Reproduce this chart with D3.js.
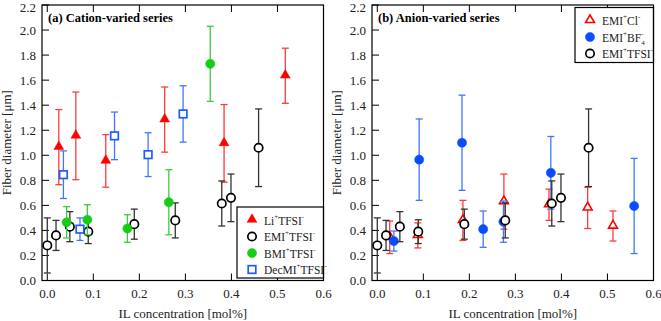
<!DOCTYPE html>
<html>
<head>
<meta charset="utf-8">
<script src="https://cdn.jsdelivr.net/npm/d3@7"></script>
<style>
  body { margin: 0; background: #fff; }
  svg text { font-family: "Liberation Serif", "Times New Roman", serif; }
</style>
</head>
<body>
<div id="chart"></div>
<script>
// concentration [mol%], mean diameter [um], error half-width [um]
var emiTfsiX = [0.0, 0.019, 0.049, 0.089, 0.189, 0.278, 0.379, 0.399, 0.459];
var emiTfsiY = [0.28, 0.36, 0.43, 0.39, 0.45, 0.48, 0.615, 0.66, 1.06];
var emiTfsiE = [0.22, 0.12, 0.12, 0.095, 0.12, 0.14, 0.18, 0.19, 0.31];

var liTfsiX = [0.025, 0.062, 0.127, 0.255, 0.384, 0.517];
var liTfsiY = [1.065, 1.155, 0.955, 1.285, 1.095, 1.635];
var liTfsiE = [0.30, 0.35, 0.21, 0.26, 0.31, 0.22];

var bmiTfsiX = [0.042, 0.087, 0.174, 0.264, 0.354];
var bmiTfsiY = [0.465, 0.485, 0.415, 0.625, 1.73];
var bmiTfsiE = [0.125, 0.12, 0.11, 0.26, 0.30];

var decmiTfsiX = [0.035, 0.071, 0.146, 0.219, 0.295];
var decmiTfsiY = [0.845, 0.41, 1.155, 1.005, 1.33];
var decmiTfsiE = [0.19, 0.09, 0.19, 0.175, 0.225];

var emiClX = [0.027, 0.088, 0.186, 0.275, 0.373, 0.457, 0.512];
var emiClY = [0.345, 0.36, 0.48, 0.63, 0.605, 0.58, 0.435];
var emiClE = [0.13, 0.10, 0.16, 0.22, 0.125, 0.165, 0.12];

var emiBf4X = [0.036, 0.091, 0.184, 0.230, 0.274, 0.377, 0.558];
var emiBf4Y = [0.315, 0.965, 1.10, 0.41, 0.47, 0.86, 0.595];
var emiBf4E = [0.08, 0.325, 0.38, 0.145, 0.165, 0.29, 0.38];

var xTicks = [0.0, 0.1, 0.2, 0.3, 0.4, 0.5, 0.6];
var yTicks = [0.0, 0.2, 0.4, 0.6, 0.8, 1.0, 1.2, 1.4, 1.6, 1.8, 2.0, 2.2];

function series(name, xs, ys, es, shape, color, barColor) {
  return {
    name: name, shape: shape, color: color, barColor: barColor,
    points: xs.map(function(x, i) { return {x: x, y: ys[i], e: es[i]}; })
  };
}

var panelA = {
  title: "(a) Cation-varied series",
  series: [
    series(["Li", "+", "TFSI", "-"], liTfsiX, liTfsiY, liTfsiE, "triFill", "#ff0000", "#ff3a3a"),
    series(["EMI", "+", "TFSI", "-"], emiTfsiX, emiTfsiY, emiTfsiE, "circleOpen", "#000", "#333"),
    series(["BMI", "+", "TFSI", "-"], bmiTfsiX, bmiTfsiY, bmiTfsiE, "circleFill", "#16cc16", "#3ccc3c"),
    series(["DecMI", "+", "TFSI", "-"], decmiTfsiX, decmiTfsiY, decmiTfsiE, "squareOpen", "#1f5cff", "#3f77ff")
  ],
  legend: {x: 237, y: 207, w: 86.5, h: 71}
};

var panelB = {
  title: "(b) Anion-varied series",
  series: [
    series(["EMI", "+", "Cl", "-"], emiClX, emiClY, emiClE, "triOpen", "#ff0000", "#ff3a3a"),
    series(["EMI", "+", "BF", "-", "4"], emiBf4X, emiBf4Y, emiBf4E, "circleFill", "#0a4dff", "#3f77ff"),
    series(["EMI", "+", "TFSI", "-"], emiTfsiX, emiTfsiY, emiTfsiE, "circleOpen", "#000", "#333")
  ],
  legend: {x: 245, y: 7.5, w: 78.5, h: 55}
};

var width = 661, height = 321;
var svg = d3.select("#chart").append("svg")
  .attr("width", width)
  .attr("height", height);

var x = d3.scaleLinear().domain([-0.0115, 0.6]).range([42, 323.5]);
var y = d3.scaleLinear().domain([0, 2.2]).range([280.5, 5]);

function drawMarker(g, shape, color, cx, cy) {
  if (shape === "circleOpen" || shape === "circleFill") {
    g.append("circle")
      .attr("cx", cx).attr("cy", cy).attr("r", shape === "circleFill" ? 4.6 : 4.2)
      .attr("fill", shape === "circleFill" ? color : "#fff")
      .attr("stroke", color)
      .attr("stroke-width", shape === "circleFill" ? 0.5 : 1.7);
  } else if (shape === "squareOpen") {
    g.append("rect")
      .attr("x", cx - 3.8).attr("y", cy - 3.8)
      .attr("width", 7.6).attr("height", 7.6)
      .attr("fill", "#fff").attr("stroke", color).attr("stroke-width", 1.7);
  } else {
    var open = shape === "triOpen";
    g.append("path")
      .attr("d", d3.symbol().type(d3.symbolTriangle).size(open ? 34 : 42)())
      .attr("transform", "translate(" + cx + "," + (cy - 0.5) + ")")
      .attr("fill", open ? "#fff" : color)
      .attr("stroke", color)
      .attr("stroke-width", open ? 1.6 : 0.5);
  }
}

// ion label: base + charge superscripts, optional subscript (BF4-)
function labelText(sel, parts) {
  sel.append("tspan").text(parts[0]);
  sel.append("tspan").attr("font-size", 7).attr("dy", -6).text(parts[1]);
  sel.append("tspan").attr("dy", 6).text(parts[2]);
  if (parts.length === 5) {
    sel.append("tspan").attr("font-size", 7).attr("dy", 3).text(parts[4]);
    sel.append("tspan").attr("font-size", 7).attr("dy", -9).attr("dx", -3.5).text(parts[3]);
  } else {
    sel.append("tspan").attr("font-size", 7).attr("dy", -6).text(parts[3]);
  }
}

function drawPanel(panel, offsetX) {
  var g = svg.append("g").attr("transform", "translate(" + offsetX + ",0)");
  var x0 = x.range()[0], x1 = x.range()[1], y0 = y.range()[0], y1 = y.range()[1];

  // inward ticks on left, bottom and top
  g.selectAll(".ytick").data(yTicks).enter().append("line")
    .attr("x1", x0).attr("x2", x0 + 7)
    .attr("y1", function(d) { return y(d); }).attr("y2", function(d) { return y(d); })
    .attr("stroke", "#000").attr("stroke-width", 1);
  g.selectAll(".xtick").data(xTicks).enter().append("line")
    .attr("x1", function(d) { return x(d); }).attr("x2", function(d) { return x(d); })
    .attr("y1", y0).attr("y2", y0 - 7)
    .attr("stroke", "#000").attr("stroke-width", 1);
  g.selectAll(".xtickTop").data(xTicks).enter().append("line")
    .attr("x1", function(d) { return x(d); }).attr("x2", function(d) { return x(d); })
    .attr("y1", y1).attr("y2", y1 + 7)
    .attr("stroke", "#000").attr("stroke-width", 1);

  g.selectAll(".ylab").data(yTicks).enter().append("text")
    .attr("x", x0 - 6).attr("y", function(d) { return Math.max(y(d) + 4.5, 11.5); })
    .attr("text-anchor", "end").attr("font-size", 13).attr("fill", "#222")
    .text(function(d) { return d.toFixed(1); });
  g.selectAll(".xlab").data(xTicks).enter().append("text")
    .attr("x", function(d) { return x(d); }).attr("y", y0 + 17)
    .attr("text-anchor", "middle").attr("font-size", 13).attr("fill", "#222")
    .text(function(d) { return d.toFixed(1); });

  g.append("text")
    .attr("transform", "translate(" + (x0 - 31) + "," + ((y0 + y1) / 2) + ") rotate(-90)")
    .attr("text-anchor", "middle").attr("font-size", 13).attr("fill", "#222")
    .text("Fiber diameter [\u03bcm]");
  g.append("text")
    .attr("x", (x0 + x1) / 2).attr("y", y0 + 37)
    .attr("text-anchor", "middle").attr("font-size", 13).attr("fill", "#222")
    .text("IL concentration [mol%]");

  g.append("text")
    .attr("x", x0 + 6).attr("y", y1 + 17)
    .attr("font-size", 12.5).attr("font-weight", "bold")
    .text(panel.title);

  // error bars then markers
  panel.series.forEach(function(s) {
    var sg = g.append("g");
    s.points.forEach(function(p) {
      var cx = x(p.x), top = y(p.y + p.e), bot = y(p.y - p.e);
      sg.append("line").attr("x1", cx).attr("x2", cx).attr("y1", top).attr("y2", bot)
        .attr("stroke", s.barColor).attr("stroke-width", 1.3);
      [top, bot].forEach(function(cy) {
        sg.append("line").attr("x1", cx - 3.5).attr("x2", cx + 3.5).attr("y1", cy).attr("y2", cy)
          .attr("stroke", s.barColor).attr("stroke-width", 1.3);
      });
    });
    s.points.forEach(function(p) {
      drawMarker(sg, s.shape, s.color, x(p.x), y(p.y));
    });
  });

  // legend
  var L = panel.legend;
  var lg = g.append("g");
  lg.append("rect")
    .attr("x", L.x).attr("y", L.y).attr("width", L.w).attr("height", L.h)
    .attr("fill", "#fff").attr("stroke", "#000").attr("stroke-width", 1.2);
  panel.series.forEach(function(s, i) {
    var ly = L.y + 13 + i * 16.5;
    drawMarker(lg, s.shape, s.color, L.x + 15, ly);
    var t = lg.append("text")
      .attr("x", L.x + 27).attr("y", ly + 4.5)
      .attr("font-size", 11.5).attr("fill", "#222");
    labelText(t, s.name);
  });

  g.append("rect")
    .attr("x", x0).attr("y", y1).attr("width", x1 - x0).attr("height", y0 - y1)
    .attr("fill", "none").attr("stroke", "#000").attr("stroke-width", 1.2);
}

drawPanel(panelA, 0);
drawPanel(panelB, 330);
</script>
</body>
</html>
